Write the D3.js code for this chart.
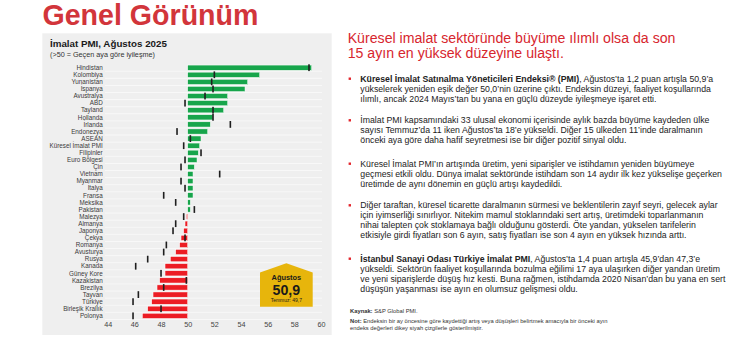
<!DOCTYPE html>
<html><head><meta charset="utf-8">
<script src="https://cdn.jsdelivr.net/npm/d3@7"></script>
<style>
body{margin:0;background:#fff}
svg{display:block;font-family:"Liberation Sans",Arial,Helvetica,sans-serif}
</style>
</head><body>
<svg id="c" width="740" height="350"></svg>
<script>
// ---------- data ----------
const countries = ["Hindistan","Kolombiya","Yunanistan","İspanya","Avustralya","ABD","Tayland","Hollanda","İrlanda","Endonezya","ASEAN","Küresel İmalat PMI","Filipinler","Euro Bölgesi","Çin","Vietnam","Myanmar","İtalya","Fransa","Meksika","Pakistan","Malezya","Almanya","Japonya","Çekya","Romanya","Avusturya","Rusya","Kanada","Güney Kore","Kazakistan","Brezilya","Tayvan","Türkiye","Birleşik Krallık","Polonya"];
const august = [59.3,55.4,54.5,54.3,53.0,53.0,52.7,51.9,51.7,51.5,51.0,50.9,50.8,50.7,50.5,50.4,50.4,50.4,50.4,50.2,50.2,49.9,49.8,49.7,49.5,49.4,49.1,48.7,48.3,48.3,47.9,47.7,47.4,47.3,47.0,46.6];
const july   = [59.1,52.0,51.8,51.9,51.3,49.8,51.9,51.9,53.2,49.2,50.2,49.7,51.0,49.8,49.5,52.4,49.5,49.8,48.2,49.1,50.5,49.7,49.1,48.9,49.8,48.4,48.2,47.0,46.1,48.0,49.9,48.2,46.3,45.9,48.0,45.9];
const xTicks = [44,46,48,50,52,54,56,58,60];
const threshold = 50;
const globalLabel = "Küresel İmalat PMI";
const badgeMonth = "Ağustos";
const badgePrevMonth = "Temmuz";

const pageTitle = "Genel Görünüm";
const chartTitle = "İmalat PMI, Ağustos 2025";
const chartSubtitle = "(>50 = Geçen aya göre iyileşme)";
const headline = ["Küresel imalat sektöründe büyüme ılımlı olsa da son","15 ayın en yüksek düzeyine ulaştı."];
// each bullet: list of lines; each line: list of [text, bold]
const bullets = [
 [[["Küresel İmalat Satınalma Yöneticileri Endeksi® (PMI)",1],[", Ağustos’ta 1,2 puan artışla 50,9’a",0]],
  [["yükselerek yeniden eşik değer 50,0’nin üzerine çıktı. Endeksin düzeyi, faaliyet koşullarında",0]],
  [["ılımlı, ancak 2024 Mayıs’tan bu yana en güçlü düzeyde iyileşmeye işaret etti.",0]]],
 [[["İmalat PMI kapsamındaki 33 ulusal ekonomi içerisinde aylık bazda büyüme kaydeden ülke",0]],
  [["sayısı Temmuz’da 11 iken Ağustos’ta 18’e yükseldi. Diğer 15 ülkeden 11’inde daralmanın",0]],
  [["önceki aya göre daha hafif seyretmesi ise bir diğer pozitif sinyal oldu.",0]]],
 [[["Küresel İmalat PMI’ın artışında üretim, yeni siparişler ve istihdamın yeniden büyümeye",0]],
  [["geçmesi etkili oldu. Dünya imalat sektöründe istihdam son 14 aydır ilk kez yükselişe geçerken",0]],
  [["üretimde de aynı dönemin en güçlü artışı kaydedildi.",0]]],
 [[["Diğer taraftan, küresel ticarette daralmanın sürmesi ve beklentilerin zayıf seyri, gelecek aylar",0]],
  [["için iyimserliği sınırlıyor. Nitekim mamul stoklarındaki sert artış, üretimdeki toparlanmanın",0]],
  [["nihai talepten çok stoklamaya bağlı olduğunu gösterdi. Öte yandan, yükselen tarifelerin",0]],
  [["etkisiyle girdi fiyatları son 6 ayın, satış fiyatları ise son 4 ayın en yüksek hızında arttı.",0]]],
 [[["İstanbul Sanayi Odası Türkiye İmalat PMI",1],[", Ağustos’ta 1,4 puan artışla 45,9’dan 47,3’e",0]],
  [["yükseldi. Sektörün faaliyet koşullarında bozulma eğilimi 17 aya ulaşırken diğer yandan üretim",0]],
  [["ve yeni siparişlerde düşüş hız kesti. Buna rağmen, istihdamda 2020 Nisan’dan bu yana en sert",0]],
  [["düşüşün yaşanması ise ayın en olumsuz gelişmesi oldu.",0]]]
];
const sourceLine = [["Kaynak:",1],[" S&P Global PMI.",0]];
const noteLines = [[["Not:",1],[" Endeksin bir ay öncesine göre kaydettiği artış veya düşüşleri belirtmek amacıyla bir önceki ayın",0]],
                   [["endeks değerleri dikey siyah çizgilerle gösterilmiştir.",0]]];

// ---------- drawing ----------
const svg = d3.select("#c");
const RED = "#d2353b", GREEN = "#17a54b", BARRED = "#ec1c24";

function fit(sel, target){
  const n = sel.node(); const fs = parseFloat(sel.attr("font-size"));
  const w = n.getComputedTextLength();
  sel.attr("font-size", (fs*target/w).toFixed(2));
  return fs*target/w;
}

// page title
fit(svg.append("text").attr("x",42.5).attr("y",25).attr("font-size",29).attr("font-weight","bold")
   .attr("fill",RED).text(pageTitle), 216);

// panel
svg.append("rect").attr("x",42.3).attr("y",33.3).attr("width",289.4).attr("height",301.7).attr("fill","#efefef");

fit(svg.append("text").attr("x",50).attr("y",47.3).attr("font-size",10).attr("font-weight","bold")
   .attr("fill","#1a1a1a").text(chartTitle), 117);
fit(svg.append("text").attr("x",50).attr("y",56.5).attr("font-size",7).attr("fill","#333").text(chartSubtitle), 105);

const x = d3.scaleLinear().domain([44,60]).range([107.7,321]);
const y = d3.scaleBand().domain(countries).range([64.15,319.4]).paddingInner(0.26).paddingOuter(0.13);
const step = y.step();

// row separators
const g = svg.append("g");
g.selectAll("line.sep").data(countries).join("line").attr("class","sep")
  .attr("x1",105).attr("x2",322)
  .attr("y1",d=>y(d)-y.paddingInner()*step/2+step).attr("y2",d=>y(d)-y.paddingInner()*step/2+step)
  .attr("stroke","#fafafa").attr("stroke-width",0.8);

// labels
g.selectAll("text.lab").data(countries).join("text").attr("class","lab")
  .attr("x",102.7).attr("y",d=>y(d)+y.bandwidth()/2).attr("dy","0.35em")
  .attr("text-anchor","end").attr("font-size",6.3).attr("fill","#3a3a3a").text(d=>d);

// bars
const rows = countries.map((c,i)=>({c, v:august[i], p:july[i]}));
g.selectAll("rect.bar").data(rows).join("rect").attr("class","bar")
  .attr("x",d=>x(Math.min(d.v,threshold))).attr("width",d=>Math.abs(x(d.v)-x(threshold)))
  .attr("y",d=>y(d.c)).attr("height",y.bandwidth())
  .attr("fill",d=>d.v>=threshold?GREEN:BARRED).attr("stroke","#ffffff").attr("stroke-width",0.5);

// previous-month markers
g.selectAll("rect.prev").data(rows).join("rect").attr("class","prev")
  .attr("x",d=>x(d.p)-0.8).attr("width",1.6)
  .attr("y",d=>y(d.c)+y.bandwidth()/2-3.4).attr("height",6.8)
  .attr("fill","#1e1e1e");

// x tick labels
const xAxis = svg.append("g").attr("transform","translate(0,322)")
  .call(d3.axisBottom(x).tickValues(xTicks).tickSize(0).tickPadding(0).tickFormat(d3.format("d")));
xAxis.select(".domain").remove();
xAxis.selectAll("text").attr("font-size",7.2).attr("fill","#444").attr("font-family","Liberation Sans, Arial, sans-serif").attr("dy","0.71em");

// badge
const gi = countries.indexOf(globalLabel);
const bx0 = 260, bx1 = 312.7, bTop = 263.3, bSh = 272.5, bBot = 306.7, bcx = (bx0+bx1)/2;
svg.append("path").attr("d",`M${bcx},${bTop}L${bx1},${bSh}L${bx1},${bBot}L${bx0},${bBot}L${bx0},${bSh}Z`).attr("fill","#e7b50c");
svg.append("text").attr("x",bcx).attr("y",280.3).attr("text-anchor","middle").attr("font-size",7.4).attr("font-weight","bold").attr("fill","#1a1a1a").text(badgeMonth);
svg.append("text").attr("x",bcx).attr("y",294.5).attr("text-anchor","middle").attr("font-size",14.2).attr("font-weight","bold").attr("fill","#1a1a1a").text(d3.format(".1f")(august[gi]).replace(".",","));
svg.append("text").attr("x",bcx).attr("y",302.3).attr("text-anchor","middle").attr("font-size",5).attr("fill","#1a1a1a").text(badgePrevMonth+": "+d3.format(".1f")(july[gi]).replace(".",","));

// headline
const h1 = svg.append("text").attr("x",347.7).attr("y",43).attr("font-size",13).attr("fill","#d7262e").text(headline[0]);
const hfs = fit(h1, 328);
svg.append("text").attr("x",347.7).attr("y",57.5).attr("font-size",hfs).attr("fill","#d7262e").text(headline[1]);

// bullets
function richLine(parent, xx, yy, fs, parts, fill){
  const t = parent.append("text").attr("x",xx).attr("y",yy).attr("font-size",fs).attr("fill",fill);
  parts.forEach(([s,b])=>t.append("tspan").attr("font-weight",b?"bold":null).text(s));
  return t;
}
const probe = svg.append("text").attr("font-size",10).text(bullets[0][1][0][0]);
const bodyFs = 10*351/probe.node().getComputedTextLength();
probe.remove();
const bulletStarts = [81.7,123.3,166.7,208.3,261.7];
const lineH = 10;
bullets.forEach((b,i)=>{
  svg.append("rect").attr("x",348.6).attr("y",bulletStarts[i]-4.2).attr("width",2.4).attr("height",2.4).attr("fill","#e3262d");
  b.forEach((ln,j)=>richLine(svg,360.3,bulletStarts[i]+j*lineH,bodyFs,ln,"#222"));
});

// source & note
const probe2 = svg.append("text").attr("font-size",10);
noteLines[0].forEach(([s,b])=>probe2.append("tspan").attr("font-weight",b?"bold":null).text(s));
const noteFs = 10*258/probe2.node().getComputedTextLength();
probe2.remove();
richLine(svg,350,313,noteFs,sourceLine,"#333");
noteLines.forEach((ln,j)=>richLine(svg,350,323+j*6.6,noteFs,ln,"#333"));
</script>
</body></html>
